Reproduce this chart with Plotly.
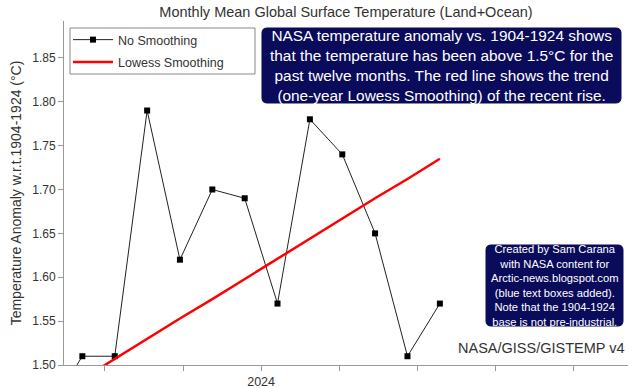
import plotly.graph_objects as go

# Data (decimal year, mid-month)
months = [2023.458, 2023.542, 2023.625, 2023.708, 2023.792, 2023.875, 2023.958,
          2024.042, 2024.125, 2024.208, 2024.292, 2024.375, 2024.458]
anomaly = [1.45, 1.51, 1.51, 1.79, 1.62, 1.70, 1.69, 1.57, 1.78, 1.74, 1.65, 1.51, 1.57]

lowess_x = [2023.542, 2023.625, 2023.708, 2023.792, 2023.875, 2023.958,
            2024.042, 2024.125, 2024.208, 2024.292, 2024.375, 2024.458]
lowess_y = [1.484, 1.507, 1.530, 1.553, 1.575, 1.598, 1.621, 1.644, 1.667, 1.690, 1.712, 1.735]

x_tickvals = [2023.6, 2023.8, 2024.0, 2024.2, 2024.4, 2024.6, 2024.8]
x_ticktext = ["", "", "2024", "", "", "", ""]
y_tickvals = [1.50, 1.55, 1.60, 1.65, 1.70, 1.75, 1.80, 1.85]
y_ticktext = ["1.50", "1.55", "1.60", "1.65", "1.70", "1.75", "1.80", "1.85"]

W, H = 638, 388
L, R, T, B = 64, 10, 21, 23
pw, ph = W - L - R, H - T - B

def px2paper(x, y):
    return (x - L) / pw, (H - B - y) / ph

def rounded_rect(x0, y0, x1, y1, r):
    def p(x, y):
        a, b = px2paper(x, y)
        return f"{a:.5f},{b:.5f}"
    return (f"M {p(x0 + r, y0)} L {p(x1 - r, y0)} Q {p(x1, y0)} {p(x1, y0 + r)} "
            f"L {p(x1, y1 - r)} Q {p(x1, y1)} {p(x1 - r, y1)} "
            f"L {p(x0 + r, y1)} Q {p(x0, y1)} {p(x0, y1 - r)} "
            f"L {p(x0, y0 + r)} Q {p(x0, y0)} {p(x0 + r, y0)} Z")

NAVY = "#0b0b5b"
FONT = "Liberation Sans, Arial, sans-serif"

fig = go.Figure()
fig.add_trace(go.Scatter(
    x=months, y=anomaly, mode="lines+markers", name="No Smoothing",
    legendgroup="a",
    line=dict(color="#222222", width=1),
    marker=dict(symbol="square", size=6, color="#000000"),
))
fig.add_trace(go.Scatter(
    x=lowess_x, y=lowess_y, mode="lines", name="Lowess Smoothing",
    legendgroup="b",
    line=dict(color="#ff0000", width=2.5),
))

lg0 = px2paper(70, 28)
lg1 = px2paper(255, 74)

shapes = [
    dict(type="rect", xref="paper", yref="paper", x0=lg0[0], y0=lg0[1], x1=lg1[0], y1=lg1[1],
         fillcolor="white", line=dict(color="#888888", width=1), layer="above"),
    dict(type="path", xref="paper", yref="paper", path=rounded_rect(262, 28, 621, 103, 5),
         fillcolor=NAVY, line=dict(color=NAVY, width=1), layer="above"),
    dict(type="path", xref="paper", yref="paper", path=rounded_rect(486, 245, 623, 326, 5),
         fillcolor=NAVY, line=dict(color=NAVY, width=1), layer="above"),
]

ax1, ay1 = px2paper(441.5, 65.5)
ax2, ay2 = px2paper(554.5, 285.5)
an_x, an_y = px2paper(627, 348)

annotations = [
    dict(x=ax1, y=ay1, xref="paper", yref="paper", showarrow=False,
         xanchor="center", yanchor="middle", align="center",
         text=("NASA temperature anomaly vs. 1904-1924 shows<br>"
               "that the temperature has been above 1.5°C for the<br>"
               "past twelve months. The red line shows the trend<br>"
               "(one-year Lowess Smoothing) of the recent rise."),
         font=dict(family=FONT, size=15.4, color="white")),
    dict(x=ax2, y=ay2, xref="paper", yref="paper", showarrow=False,
         xanchor="center", yanchor="middle", align="center",
         text=("Created by Sam Carana<br>with NASA content for<br>"
               "Arctic-news.blogspot.com<br>(blue text boxes added).<br>"
               "Note that the 1904-1924<br>base is not pre-industrial."),
         font=dict(family=FONT, size=11.2, color="white")),
    dict(x=an_x, y=an_y, xref="paper", yref="paper", showarrow=False,
         xanchor="right", yanchor="middle",
         text="NASA/GISS/GISTEMP v4",
         font=dict(family=FONT, size=14.5, color="#333333")),
]

lx, ly = px2paper(68, 25)

fig.update_layout(
    width=W, height=H,
    margin=dict(l=L, r=R, t=T, b=B, autoexpand=False),
    paper_bgcolor="white", plot_bgcolor="white",
    font=dict(family=FONT, size=12, color="#333333"),
    title=dict(text="Monthly Mean Global Surface Temperature (Land+Ocean)",
               x=0.5, xref="paper", y=1 - 12 / H, yanchor="middle",
               font=dict(family=FONT, size=14.5, color="#333333")),
    xaxis=dict(range=[2023.495, 2024.94], tickvals=x_tickvals, ticktext=x_ticktext,
               showgrid=False, zeroline=False, showline=True, linecolor="#999999",
               ticks="outside", ticklen=5, tickcolor="#999999", automargin=False,
               tickfont=dict(size=12.5, color="#333333")),
    yaxis=dict(range=[1.50, 1.892], tickvals=y_tickvals, ticktext=y_ticktext,
               showgrid=False, zeroline=False, showline=True, linecolor="#999999",
               ticks="outside", ticklen=5, tickcolor="#999999", automargin=False,
               tickfont=dict(size=12, color="#333333"),
               title=dict(text="Temperature Anomaly w.r.t.1904-1924 (°C)",
                          font=dict(size=14, color="#333333"), standoff=7)),
    legend=dict(x=lx, y=ly, xanchor="left", yanchor="top",
                bgcolor="rgba(0,0,0,0)", borderwidth=0,
                font=dict(size=12.5, color="#333333"), itemwidth=40,
                tracegroupgap=3),
    shapes=shapes,
    annotations=annotations,
)

fig.write_html("out.html", config={"displayModeBar": False},
               post_script="document.body.style.margin='0';")
